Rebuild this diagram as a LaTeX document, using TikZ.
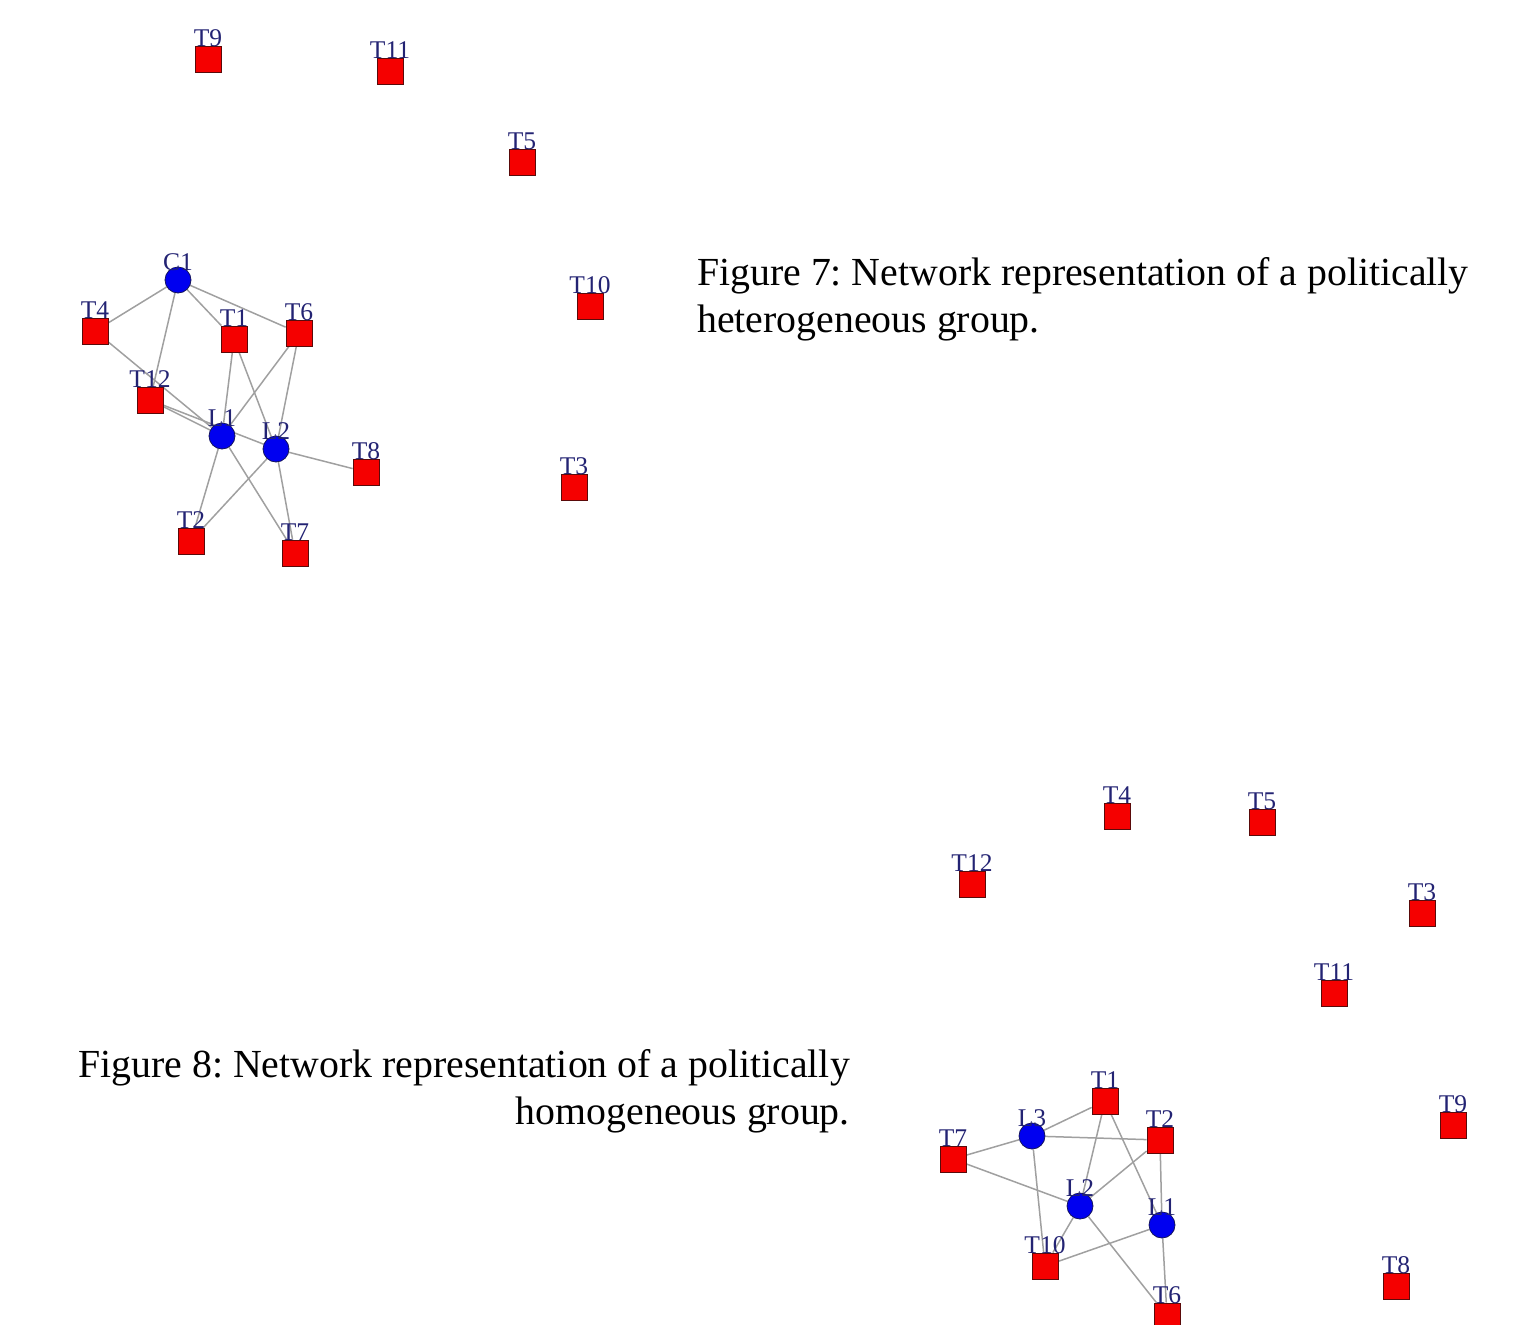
\documentclass[tikz,border=0pt]{standalone}
\usepackage{fontspec}
\setmainfont{Liberation Serif}
\usetikzlibrary{backgrounds}
\frenchspacing
\definecolor{edgegray}{RGB}{160,160,160}
\definecolor{sqred}{RGB}{245,0,0}
\definecolor{sqborder}{RGB}{90,10,10}
\definecolor{cblue}{RGB}{0,0,240}
\definecolor{cborder}{RGB}{20,20,90}
\definecolor{lblnavy}{RGB}{35,35,115}
\begin{document}
\begin{tikzpicture}[x=1pt,y=-1pt,
  sq/.style={rectangle, draw=sqborder, fill=sqred, minimum size=26pt, inner sep=0pt, line width=0.8pt},
  cir/.style={circle, draw=cborder, fill=cblue, minimum size=26pt, inner sep=0pt, line width=0.8pt},
  lbl/.style={inner sep=0pt, font=\fontsize{25.5}{25.5}\selectfont, text=lblnavy},
  sql/.style={label={[lbl,yshift=21pt]center:#1}},
  cirl/.style={label={[lbl,yshift=18pt]center:#1}},
  link/.style={draw=edgegray, line width=1.5pt},
  captxt/.style={inner sep=0pt, font=\fontsize{39.8}{47}\selectfont}]
\useasboundingbox (0,0) rectangle (1516,1325);

% ---------- Figure 7 ----------
\node[sq,sql=T9]  (aT9)  at (208,59) {};
\node[sq,sql=T11] (aT11) at (390,71) {};
\node[sq,sql=T5]  (aT5)  at (522,162) {};
\node[sq,sql=T10] (aT10) at (590,306) {};
\node[sq,sql=T3]  (aT3)  at (574,487) {};
\node[cir,cirl=C1] (aC1) at (178,280) {};
\node[sq,sql=T4]  (aT4)  at (95,331) {};
\node[sq,sql=T1]  (aT1)  at (234,339) {};
\node[sq,sql=T6]  (aT6)  at (299,333) {};
\node[sq,sql=T12] (aT12) at (150,400) {};
\node[cir,cirl=L1] (aL1) at (222,436) {};
\node[cir,cirl=L2] (aL2) at (276,449) {};
\node[sq,sql=T8]  (aT8)  at (366,472) {};
\node[sq,sql=T2]  (aT2)  at (191,541) {};
\node[sq,sql=T7]  (aT7)  at (295,553) {};

\begin{scope}[on background layer]
\draw[link] (aC1) -- (aT4);
\draw[link] (aC1) -- (aT12);
\draw[link] (aC1) -- (aT1);
\draw[link] (aC1) -- (aT6);
\draw[link] (aT4) -- (aL1);
\draw[link] (aT12) -- (aL1);
\draw[link] (aT12) -- (aL2);
\draw[link] (aT1) -- (aL1);
\draw[link] (aT1) -- (aL2);
\draw[link] (aT6) -- (aL1);
\draw[link] (aT6) -- (aL2);
\draw[link] (aL2) -- (aT8);
\draw[link] (aL1) -- (aT2);
\draw[link] (aL1) -- (aT7);
\draw[link] (aL2) -- (aT2);
\draw[link] (aL2) -- (aT7);
\end{scope}

\node[captxt, anchor=base west] (cap7a) at (697,285) {Figure 7: Network representation of a politically};
\node[captxt, anchor=base west] (cap7b) at (697,332) {heterogeneous group.};

% ---------- Figure 8 ----------
\node[sq,sql=T4]  (bT4)  at (1117,816) {};
\node[sq,sql=T5]  (bT5)  at (1262,822) {};
\node[sq,sql=T12] (bT12) at (972,884) {};
\node[sq,sql=T3]  (bT3)  at (1422,913) {};
\node[sq,sql=T11] (bT11) at (1334,993) {};
\node[sq,sql=T9]  (bT9)  at (1453,1125) {};
\node[sq,sql=T8]  (bT8)  at (1396,1286) {};
\node[sq,sql=T1]  (bT1)  at (1105,1101) {};
\node[cir,cirl=L3] (bL3) at (1032,1136) {};
\node[sq,sql=T2]  (bT2)  at (1160,1140) {};
\node[sq,sql=T7]  (bT7)  at (953,1159) {};
\node[cir,cirl=L2] (bL2) at (1080,1206) {};
\node[cir,cirl=L1] (bL1) at (1162,1225) {};
\node[sq,sql=T10] (bT10) at (1045,1266) {};
\node[sq,sql=T6]  (bT6)  at (1167,1316) {};

\begin{scope}[on background layer]
\draw[link] (bL3) -- (bT1);
\draw[link] (bL3) -- (bT2);
\draw[link] (bL3) -- (bT7);
\draw[link] (bL3) -- (bT10);
\draw[link] (bT7) -- (bL2);
\draw[link] (bT1) -- (bL2);
\draw[link] (bT1) -- (bL1);
\draw[link] (bT2) -- (bL2);
\draw[link] (bT2) -- (bL1);
\draw[link] (bL2) -- (bT10);
\draw[link] (bL2) -- (bT6);
\draw[link] (bL1) -- (bT10);
\draw[link] (bL1) -- (bT6);
\end{scope}

\node[captxt, anchor=base east] (cap8a) at (850,1077) {Figure 8: Network representation of a politically};
\node[captxt, anchor=base east] (cap8b) at (850,1124) {homogeneous group.};
\end{tikzpicture}
\end{document}
